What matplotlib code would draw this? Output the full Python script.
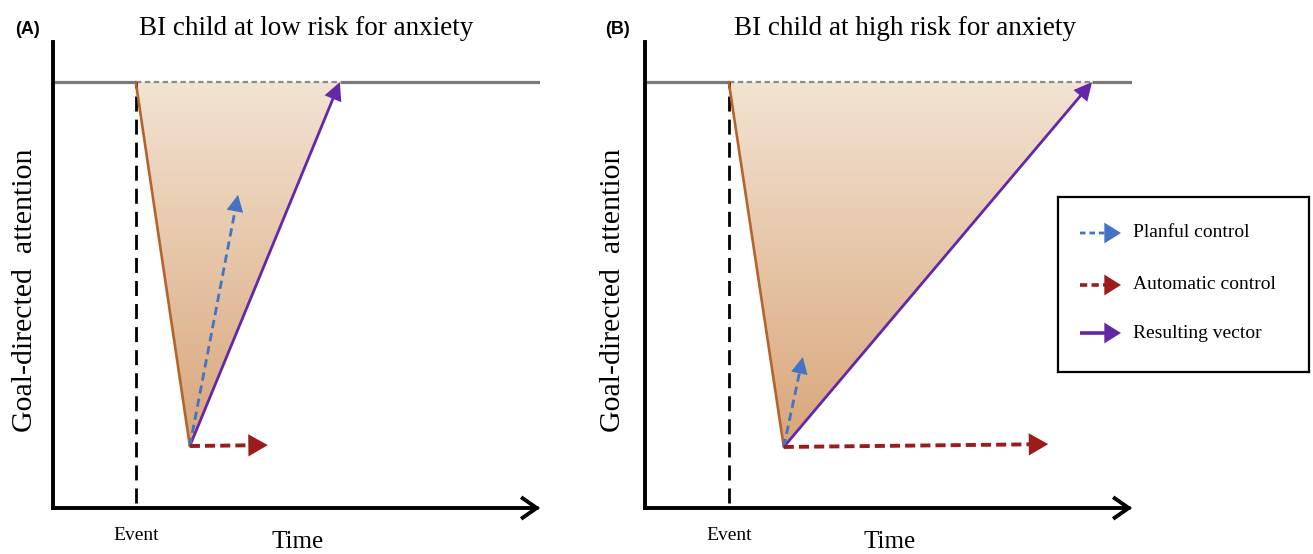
import matplotlib
matplotlib.use('Agg')
import matplotlib.pyplot as plt
import numpy as np
from matplotlib.colors import LinearSegmentedColormap
from matplotlib.patches import FancyArrowPatch, Polygon

plt.rcParams['font.family'] = ['Liberation Serif', 'DejaVu Serif']

# Panel data: time / goal-directed attention in arbitrary units (axes run 0-10)
panel_tags = ['(A)', '(B)']
panel_titles = ['BI child at low risk for anxiety', 'BI child at high risk for anxiety']
goal_level = [9.14, 9.14]
event_time = [1.70, 1.72]
dip_time = [2.81, 2.85]
dip_level = [1.33, 1.31]
recovery_time = [5.89, 9.18]
planful_x = [3.80, 3.24]
planful_y = [6.72, 3.24]
automatic_x = [4.41, 8.28]
automatic_y = [1.35, 1.37]
axis_end = 10.0

legend_labels = ['Planful control', 'Automatic control', 'Resulting vector']

blue = '#4472c4'
red = '#9c1c1c'
purple = '#6328a8'
brown = '#b5632a'
grey = '#7a7a7a'
fill_cmap = LinearSegmentedColormap.from_list('fill', ['#d9a67a', '#f2e3d2'])


def draw_arrow(ax, start, tip, color, lw, dashes, hl, hw, z=5):
    # shaft (possibly dashed) stops a little short of the tip, head drawn on top
    ls = (0, dashes) if dashes else '-'
    ax.add_patch(FancyArrowPatch(start, tip, arrowstyle='-', color=color, lw=lw,
                                 linestyle=ls, shrinkA=0, shrinkB=hl * 0.6,
                                 capstyle='butt', zorder=z, clip_on=False))
    ax.add_patch(FancyArrowPatch(start, tip, arrowstyle=f'-|>,head_length={hl},head_width={hw}',
                                 mutation_scale=1, color=color, lw=0, shrinkA=0, shrinkB=0,
                                 zorder=z + 1, clip_on=False))


fig = plt.figure(figsize=(13.13, 5.54), dpi=100)

axes_left = [53 / 1313, 645 / 1313]
tag_x = [27 / 1313, 618 / 1313]
title_x = [0.52, 0.534]
ylabel_x = [-0.0575, -0.066]

for i in range(2):
    ax = fig.add_axes([axes_left[i], 46 / 554, 487 / 1313, 466 / 554])
    ax.set_xlim(0, 10)
    ax.set_ylim(0, 10)
    ax.set_axis_off()

    g = goal_level[i]
    ev = event_time[i]
    dt, dl = dip_time[i], dip_level[i]
    rt = recovery_time[i]

    # gradient-filled triangle
    tri = Polygon([(ev, g), (rt, g), (dt, dl)], closed=True, fc='none', ec='none',
                  transform=ax.transData)
    ax.add_patch(tri)
    grad = np.linspace(0, 1, 256).reshape(-1, 1)
    im = ax.imshow(grad, cmap=fill_cmap, origin='lower', aspect='auto',
                   extent=[ev, rt, dl, g], zorder=1)
    im.set_clip_path(tri)
    ax.set_xlim(0, 10)
    ax.set_ylim(0, 10)

    # goal level: solid outside the dip, dashed across it
    ax.plot([0, ev], [g, g], color=grey, lw=2.3, solid_capstyle='butt', zorder=2)
    ax.plot([rt, axis_end], [g, g], color=grey, lw=2.3, solid_capstyle='butt', zorder=2)
    ax.plot([ev, rt], [g, g], color='#8a8a8a', lw=1.6, linestyle=(0, (2.4, 1.6)), zorder=2)

    # event marker
    ax.plot([ev, ev], [0.1, g], color='black', lw=2.0, linestyle=(0, (5.4, 2.9)), zorder=3)

    # drop after the event
    ax.plot([ev, dt], [g, dl], color=brown, lw=1.9, zorder=4, solid_capstyle='round')

    # vectors
    draw_arrow(ax, (dt, dl), (rt, g), purple, 2.0, None, 13, 6.5, z=5)
    draw_arrow(ax, (dt, dl), (planful_x[i], planful_y[i]), blue, 2.0, (3.0, 1.8), 12, 6.0, z=7)
    draw_arrow(ax, (dt, dl), (automatic_x[i], automatic_y[i]), red, 2.8, (2.6, 1.3), 14, 8.0, z=7)

    # axes
    ax.plot([0, 0], [0, 10], color='black', lw=2.8, solid_capstyle='projecting',
            clip_on=False, zorder=8)
    ax.add_patch(FancyArrowPatch((0, 0), (axis_end, 0), arrowstyle='->,head_length=10,head_width=7',
                                 mutation_scale=1, color='black', lw=2.8, shrinkA=0, shrinkB=0,
                                 capstyle='projecting', joinstyle='miter', clip_on=False, zorder=8))

    # text
    fig.text(tag_x[i], 1 - 30 / 554, panel_tags[i], family=['Liberation Sans', 'DejaVu Sans'],
             fontweight='bold', fontsize=13, ha='center', va='center')
    ax.text(title_x[i], 1.03, panel_titles[i], transform=ax.transAxes, fontsize=19.5,
            ha='center', va='center')
    ax.text(ylabel_x[i], 0.468, 'Goal-directed  attention', transform=ax.transAxes,
            fontsize=21.5, rotation=90, ha='center', va='center')
    ax.text(ev, -0.058, 'Event', transform=ax.get_xaxis_transform(), fontsize=14,
            ha='center', va='center')
    ax.text(0.503, -0.073, 'Time', transform=ax.transAxes, fontsize=18,
            ha='center', va='center')

# legend box for panel B
lax = fig.add_axes([1058 / 1313, (554 - 372) / 554, 251 / 1313, 175 / 554])
lax.set_xlim(0, 251)
lax.set_ylim(175, 0)
lax.set_xticks([])
lax.set_yticks([])
for s in lax.spines.values():
    s.set_linewidth(1.6)
    s.set_color('black')

legend_colors = [blue, red, purple]
legend_dashes = [(2.0, 1.4), (2.0, 1.2), None]
legend_lw = [2.0, 2.6, 2.6]
row_y = [36, 88, 136]
for lab, c, d, lw, y in zip(legend_labels, legend_colors, legend_dashes, legend_lw, row_y):
    draw_arrow(lax, (22, y), (63, y), c, lw, d, 12, 7.5, z=5)
    lax.text(75, y, lab, fontsize=14, ha='left', va='center')

fig.savefig('out.png', dpi=100)
